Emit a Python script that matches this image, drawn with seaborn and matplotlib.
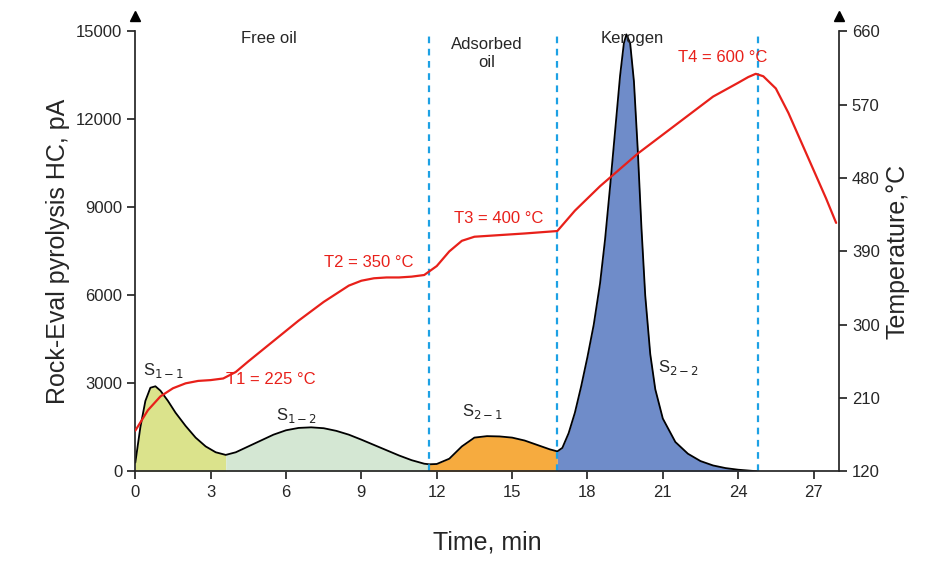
import numpy as np
import pandas as pd
import matplotlib
matplotlib.use("Agg")
import matplotlib.pyplot as plt
import seaborn as sns

# HC signal (time, pA)
hc_time = [0, 0.2, 0.4, 0.6, 0.8, 1.0, 1.3, 1.6, 2.0, 2.4, 2.8, 3.2, 3.6, 4.0, 4.5, 5.0, 5.5, 6.0, 6.5,
           7.0, 7.5, 8.0, 8.5, 9.0, 9.5, 10.0, 10.5, 11.0, 11.5, 11.7, 12.0, 12.5, 13.0, 13.5, 14.0, 14.5,
           15.0, 15.5, 16.0, 16.5, 16.8, 17.0, 17.25, 17.5, 17.75, 18.0, 18.25, 18.5, 18.7, 18.9, 19.1,
           19.3, 19.45, 19.55, 19.7, 19.85, 20.0, 20.15, 20.3, 20.5, 20.7, 21.0, 21.5, 22.0, 22.5, 23.0,
           23.5, 24.0, 24.5, 24.8]
hc_val = [300, 1500, 2400, 2850, 2900, 2750, 2400, 2000, 1550, 1150, 850, 650, 560, 650, 850, 1050, 1250,
          1400, 1480, 1500, 1470, 1380, 1250, 1080, 900, 720, 540, 380, 260, 240, 250, 430, 850, 1150, 1200,
          1190, 1150, 1050, 900, 750, 680, 800, 1300, 2000, 2900, 3900, 5000, 6400, 7900, 9700, 11600,
          13500, 14600, 14900, 14600, 13300, 11000, 8300, 6000, 4000, 2800, 1800, 1000, 600, 350, 200,
          110, 55, 20, 0]

# temperature programme (time, degC)
t_time = [0, 0.5, 1.0, 1.5, 2.0, 2.5, 3.0, 3.5, 4.0, 4.5, 5.5, 6.5, 7.5, 8.5, 9.0, 9.5, 10.0, 10.5, 11.0,
          11.5, 12.0, 12.5, 13.0, 13.5, 14.5, 15.5, 16.8, 17.5, 18.5, 20.0, 21.5, 23.0, 24.0, 24.4, 24.7,
          25.0, 25.5, 26.0, 26.5, 27.0, 27.5, 27.9]
t_val = [170, 195, 212, 222, 228, 231, 232, 234, 242, 255, 280, 305, 328, 348, 354, 357, 358, 358, 359,
         361, 372, 390, 403, 408, 410, 412, 415, 440, 470, 510, 545, 580, 597, 604, 608, 605, 590, 560,
         525, 490, 455, 425]

dividers = [11.7, 16.8, 24.8]
segments = [(0, 3.6, "#dbe38c"), (3.6, 11.7, "#d4e7d3"), (11.7, 16.8, "#f6ab3f"), (16.8, 24.8, "#6f8cc9")]

sns.set_theme(style="ticks")
plt.rcParams['font.family'] = ['Liberation Sans', 'DejaVu Sans']

fig, ax = plt.subplots(figsize=(9.53, 5.72), dpi=100)
fig.subplots_adjust(left=0.142, right=0.88, top=0.945, bottom=0.176)

hc = pd.DataFrame({"time": hc_time, "hc": hc_val})
x = np.array(hc_time)
y = np.array(hc_val)
for a, b, c in segments:
    m = (x >= a) & (x <= b)
    ax.fill_between(x[m], 0, y[m], color=c, lw=0)
sns.lineplot(data=hc, x="time", y="hc", ax=ax, color="black", lw=1.3)

for d in dividers:
    ax.axvline(d, color="#1da1e4", ls=(0, (3, 2.5)), lw=1.6)

ax.set_xlim(0, 28)
ax.set_ylim(0, 15000)
ax.set_xticks(range(0, 28, 3))
ax.set_yticks(range(0, 15001, 3000))
ax.set_xlabel("Time, min", fontsize=18, labelpad=22)
ax.set_ylabel("Rock-Eval pyrolysis HC, pA", fontsize=18)
ax.tick_params(labelsize=12)
ax.spines["top"].set_visible(False)
ax.spines["right"].set_visible(False)

ax2 = ax.twinx()
temp = pd.DataFrame({"time": t_time, "temp": t_val})
sns.lineplot(data=temp, x="time", y="temp", ax=ax2, color="#e8201a", lw=1.6)
ax2.set_ylim(120, 660)
ax2.set_yticks(range(120, 661, 90))
ax2.set_ylabel("Temperature,°C", fontsize=18)
ax2.tick_params(labelsize=12)
ax2.spines["top"].set_visible(False)
ax2.spines["left"].set_visible(False)
ax2.spines["bottom"].set_visible(False)
ax.set_xlim(0, 28)

# arrows on axis tops
ax.plot(0, 1.035, marker="^", color="black", transform=ax.transAxes, clip_on=False, ms=7)
ax.plot(1, 1.035, marker="^", color="black", transform=ax.transAxes, clip_on=False, ms=7)

red = "#e8201a"
ax2.text(3.6, 227, "T1 = 225 °C", color=red, fontsize=12)
ax2.text(7.5, 371, "T2 = 350 °C", color=red, fontsize=12)
ax2.text(12.7, 425, "T3 = 400 °C", color=red, fontsize=12)
ax2.text(21.6, 622, "T4 = 600 °C", color=red, fontsize=12)

ax.text(5.3, 14600, "Free oil", ha="center", fontsize=12)
ax.text(14.0, 14800, "Adsorbed\noil", ha="center", va="top", fontsize=12)
ax.text(19.8, 14600, "Kerogen", ha="center", fontsize=12)
ax.text(0.3, 3300, "S$_{1\u22121}$", fontsize=12)
ax.text(5.6, 1750, "S$_{1\u22122}$", fontsize=12)
ax.text(13.0, 1900, "S$_{2\u22121}$", fontsize=12)
ax.text(20.8, 3400, "S$_{2\u22122}$", fontsize=12)

fig.savefig("out.png", dpi=100)
